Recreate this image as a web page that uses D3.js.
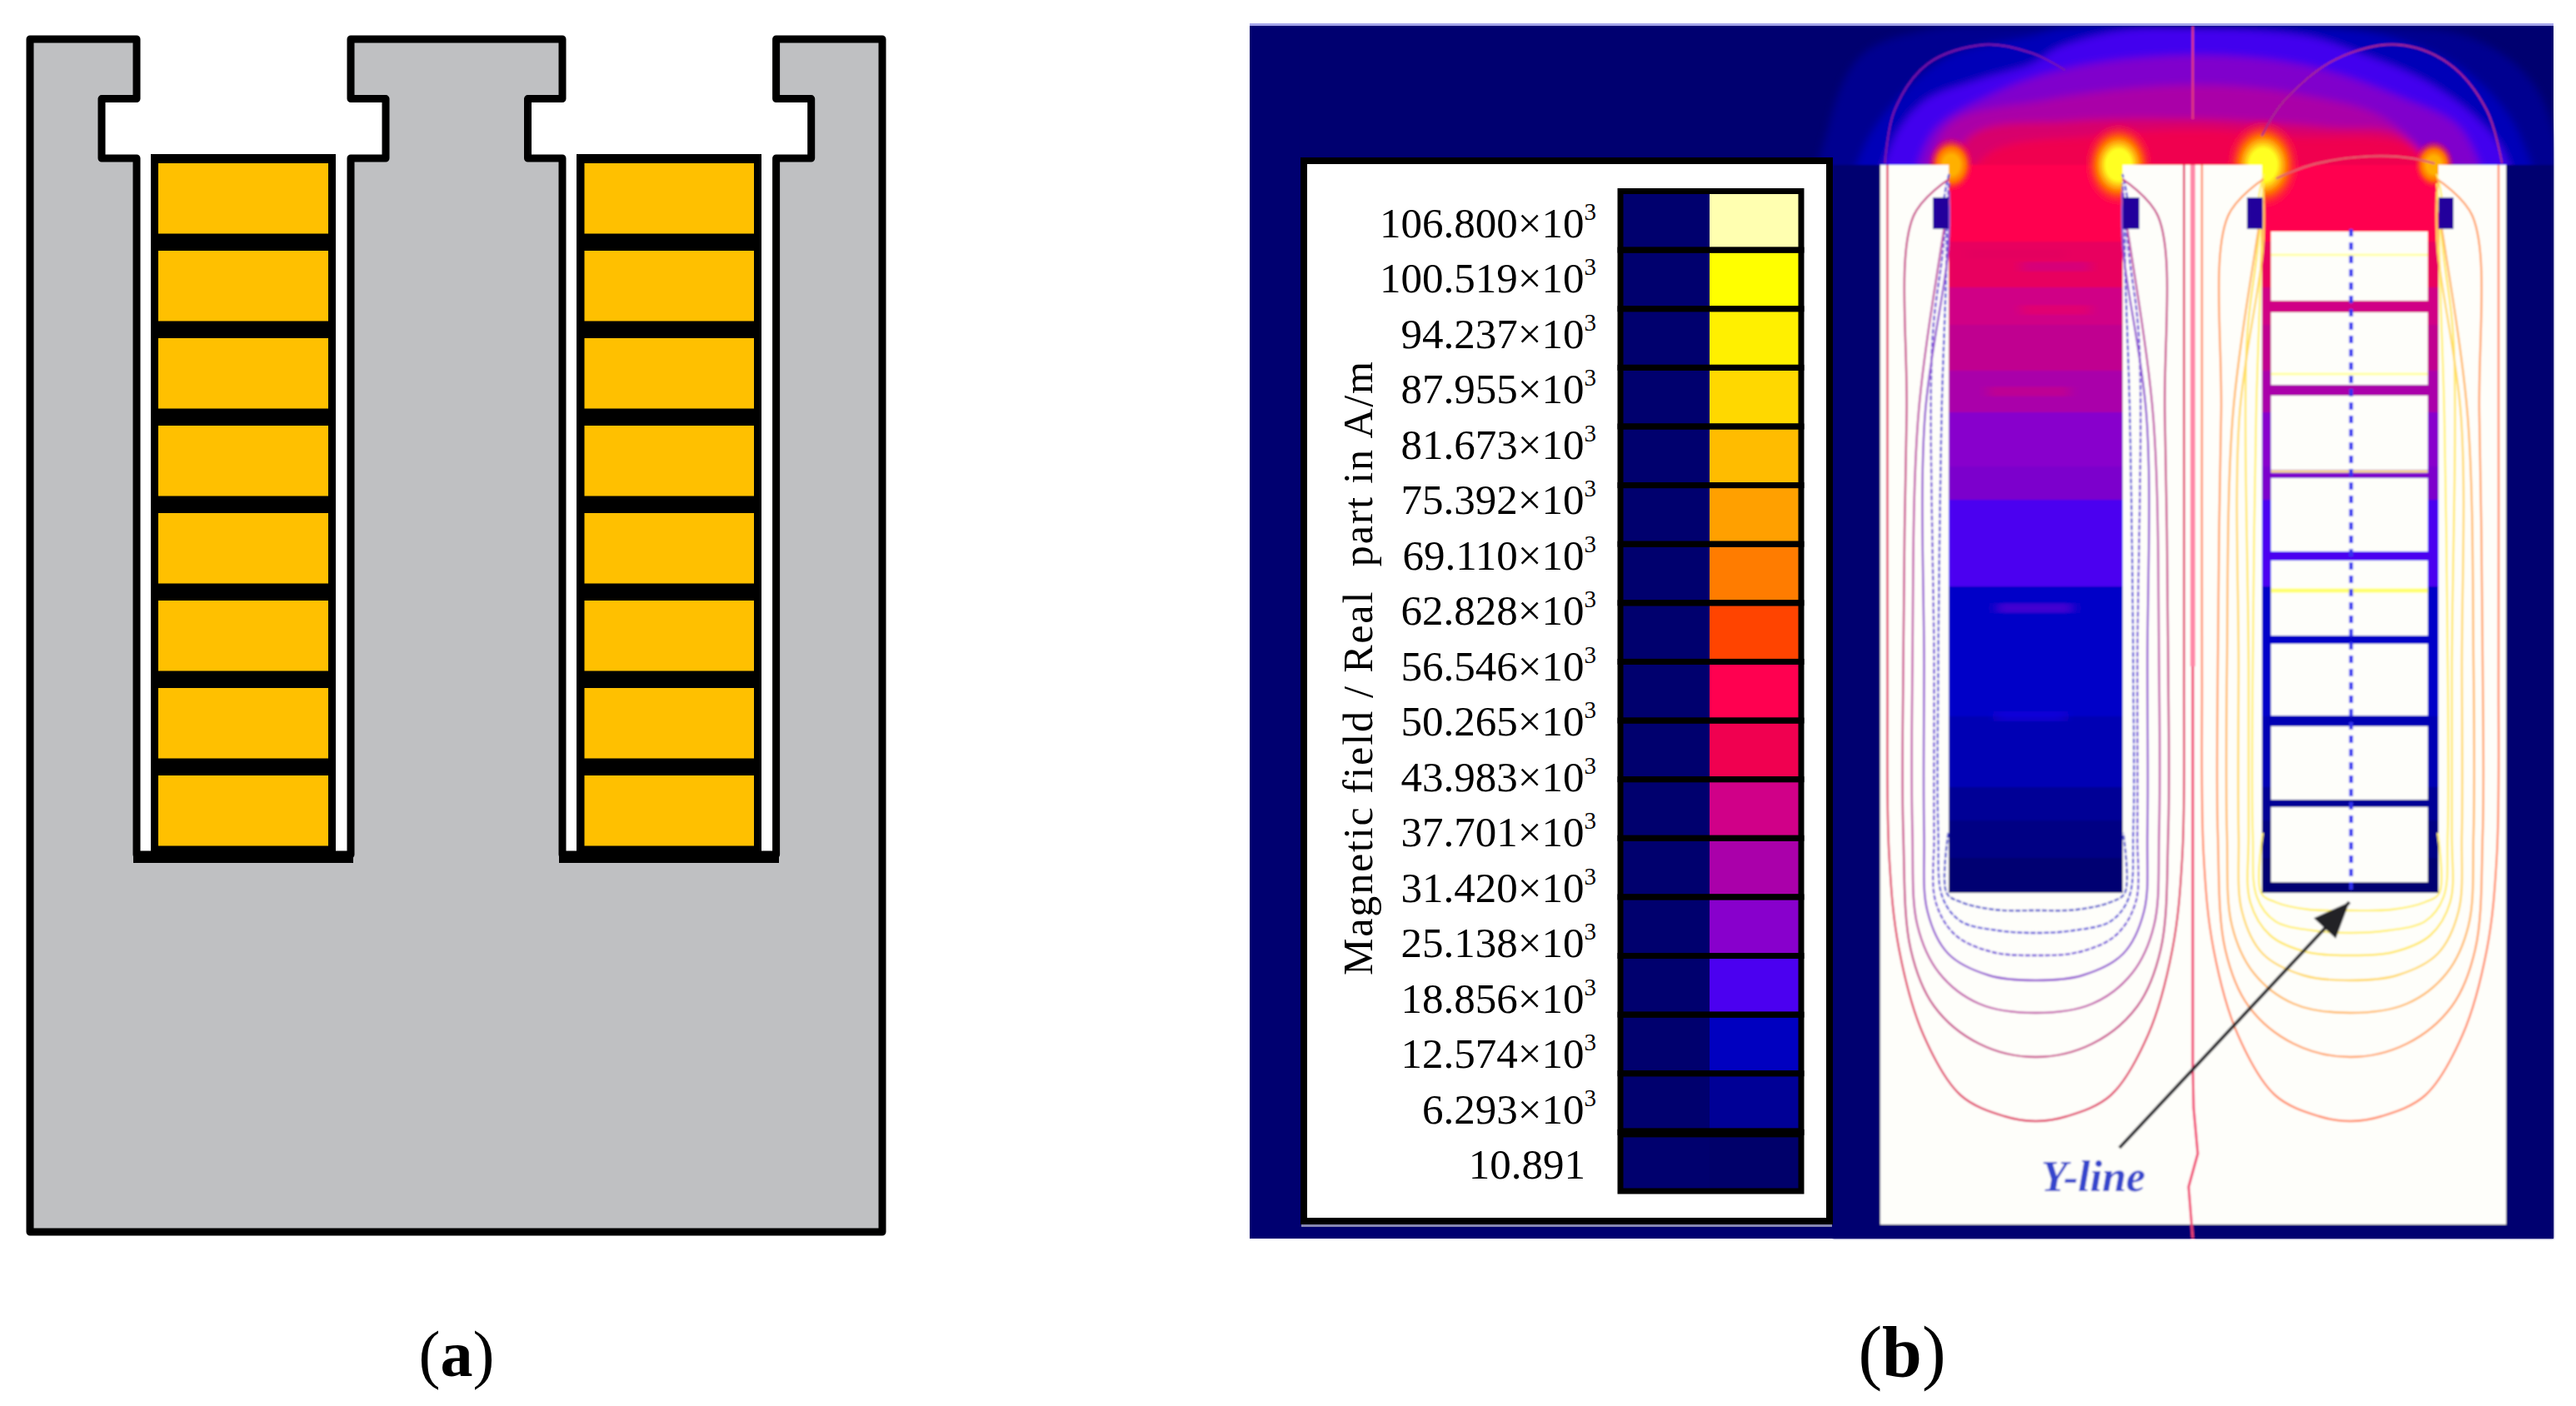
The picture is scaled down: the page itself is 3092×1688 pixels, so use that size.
<html>
<head>
    <title>Coil slots and magnetic field</title>
    <meta charset="UTF-8" />
    <script src="https://d3js.org/d3.v7.min.js"></script>
    <style>
        html, body { margin: 0; padding: 0; background: white; }
        svg { display: block; }
        text { font-family: "Liberation Serif", serif; fill: black; }
    </style>
</head>
<body>
<svg id="chart" width="3092" height="1688"></svg>
<script>
// legend values, top to bottom
const legendValues = ["106.800","100.519","94.237","87.955","81.673","75.392","69.110","62.828","56.546","50.265","43.983","37.701","31.420","25.138","18.856","12.574","6.293"];
const legendMin = "10.891";
const legendColors = ["#ffffb0","#ffff00","#fff000","#ffd800","#ffbc00","#ffa000","#ff7c00","#ff4400","#ff0050","#f00050","#d00088","#aa00aa","#8800cc","#4b00f0","#0000c0","#000096","#00006a"];
const axisTitle = "Magnetic field / Real  part in A/m";

// panel a drawing, units are from the top left of the iron
const ironX = [0,128,128,86,86,128,128,385,385,427,427,385,385,639,639,597.5,597.5,639,639,895.6,895.6,937.7,937.7,895.6,895.6,1023,1023,0];
const ironY = [0,0,71.6,71.6,143,143,979,979,143,143,71.6,71.6,0,0,71.6,71.6,143,143,979,979,143,143,71.6,71.6,0,0,1432,1432];
const coils = d3.range(8);

// panel b, y of each field band in the slots and its colour
const bandTop = [198,290,345,390,445,495,560,600,704,860,945,985,1030];
const bandColor = ["#ff0050","#e8005f","#d00086","#c00090","#aa00aa","#8800cc","#7c00cc","#4b00f0","#0000c8","#0000b4","#000096","#000084","#000072"];
const cellTop = [278,375,475,574,673,773,872,969];
const cellBottom = [361,462,564,662,763,859,960,1059];

const domeColor = ["#000090","#0000b8","#4300ee","#8000cc","#aa00a8","#d8006c","#f00050"];
const domeX = [
  [-20,-10,60,200,400,760,1100,1350,1480,1540,1550],
  [40,60,130,250,420,500,760,1000,1200,1350,1450,1470],
  [110,120,190,300,420,480,620,760,1000,1100,1250,1360,1420,1425],
  [190,205,340,500,760,1000,1200,1330,1360],
  [215,240,450,760,1000,1180,1310],
  [235,290,500,760,1050,1200,1290],
  [255,330,540,760,960,1230,1280]
];
const domeY = [
  [500,300,130,70,62,62,62,90,200,400,500],
  [500,360,240,130,85,62,62,62,95,180,320,500],
  [500,350,240,190,150,110,70,65,85,120,190,280,370,500],
  [500,320,220,160,130,155,230,310,500],
  [500,300,235,200,225,290,500],
  [500,320,285,280,300,320,500],
  [500,360,320,305,320,350,500]
];
const hotX = [250,603,908,1268];
const hotR = [45,70,75,40];
const hotCore = ["#ffb000","#ffff20","#ffff20","#ffb000"];

// thin arcs above the iron, crop coordinates
const arcX = [[110,130,200,320,420,490],[905,950,1060,1190,1300,1380,1412],[935,1020,1130,1220,1270]];
const arcY = [[385,260,150,105,125,165],[320,240,140,105,150,260,385],[420,385,368,372,385]];
const arcColor = ["#7a18a8","#a82890","#e06070"];

// flux lines: half width from the slot centre at each y, pixels
const fluxY = [
  [1000,1072,1083,1092,1093],
  [209,240,275,500,800,1000,1077,1106,1117,1120],
  [220,306,408,800,1000,1083,1123,1143,1147],
  [230,300,500,800,1000,1094,1145,1171,1177],
  [240,300,500,800,1000,1111,1168,1205,1216],
  [215,260,500,800,1000,1140,1208,1253,1269],
  [198,500,800,1026,1140,1242,1315,1340,1346]
];
const fluxHalf = [
  [105,107,90,50,0],
  [104,110,107,113,117,117,112,90,46,0],
  [104,112,124,122,122,120,96,52,0],
  [104,105,133,134,134,130,105,56,0],
  [104,114,141,148,148,142,116,68,0],
  [104,147,155,159,159,150,122,68,0],
  [178,178,178,176,164,135,90,38,0]
];
const fluxLeft = ["#4f50cc","#5a50d8","#7050d8","#9050d0","#c050a8","#c84088","#e03060"];
const fluxRight = ["#fff06a","#fff070","#ffe860","#ffd860","#ffb860","#ffa060","#ff8860"];
const slotCentre = [2443.5,2821];

// faint streaks inside the slots and the coil window
const streakY = [305,320,372,470,730,860];
const streakX0 = [2360,2425,2425,2385,2395,2395];
const streakX1 = [2480,2510,2510,2485,2490,2480];
const streakColor = ["#e0005f","#c80090","#f00060","#d00080","#7a00d8","#2000e8"];
const windowLineY = [306,449,566,709];
const windowLineColor = ["#ffffa8","#ffffa0","#ffe890","#ffff70"];

const svg = d3.select("#chart");

// ----- panel a -----
const ax = d3.scaleLinear().domain([0,1023]).range([36,1059]);
const ay = d3.scaleLinear().domain([0,1432]).range([47,1479]);
const ironLine = d3.line().x(d => ax(d[0])).y(d => ay(d[1])).curve(d3.curveLinearClosed);
const panelA = svg.append("g");

panelA.append("path")
    .attr("d", ironLine(d3.zip(ironX, ironY)))
    .attr("fill", "#bfc0c2").attr("stroke", "black").attr("stroke-width", 9).attr("stroke-linejoin", "round");

const coilY = d3.scaleBand().domain(coils).range([185,1025]);
[[181,222,190,204],[692,222,701.5,203.5]].forEach(c => {
    panelA.selectAll(null).data(coils).join("rect")
        .attr("x", c[0]).attr("y", d => coilY(d))
        .attr("width", c[1]).attr("height", coilY.bandwidth())
        .attr("fill", "black");
    panelA.selectAll(null).data(coils).join("rect")
        .attr("x", c[2]).attr("y", d => coilY(d)+11)
        .attr("width", c[3]).attr("height", 84.5)
        .attr("fill", "#ffc000");
});
// slot floor
[[160,264],[671,264]].forEach(f => {
    panelA.append("rect").attr("x", f[0]).attr("y", 1024).attr("width", f[1]).attr("height", 12).attr("fill", "black");
});

// ----- panel b background -----
const panelB = svg.append("g");
panelB.append("rect").attr("x", 1500).attr("y", 31).attr("width", 1565).attr("height", 1456).attr("fill", "#000070");

const defs = svg.append("defs");
const soft = defs.append("filter").attr("id", "soft").attr("x", "-2%").attr("y", "-2%").attr("width", "104%").attr("height", "104%");
soft.append("feGaussianBlur").attr("stdDeviation", 1.3);
const soft2 = defs.append("filter").attr("id", "soft2");
soft2.append("feGaussianBlur").attr("stdDeviation", 7);
const soft3 = defs.append("filter").attr("id", "soft3");
soft3.append("feGaussianBlur").attr("stdDeviation", 5);
defs.append("clipPath").attr("id", "frame").append("rect")
    .attr("x", 1500).attr("y", 31).attr("width", 1565).attr("height", 1456);

hotCore.forEach((c, i) => {
    const g = defs.append("radialGradient").attr("id", "hot"+i);
    g.append("stop").attr("offset", "0%").attr("stop-color", c);
    g.append("stop").attr("offset", "35%").attr("stop-color", c);
    g.append("stop").attr("offset", "62%").attr("stop-color", "#ff7000");
    g.append("stop").attr("offset", "100%").attr("stop-color", "#ff0050").attr("stop-opacity", 0);
});
defs.append("marker").attr("id", "head").attr("viewBox", "0 0 12 10").attr("refX", 12).attr("refY", 5)
    .attr("markerWidth", 12).attr("markerHeight", 9).attr("orient", "auto").attr("markerUnits", "strokeWidth")
    .append("path").attr("d", "M0,0L12,5L0,10Z").attr("fill", "#202028");

// crop coordinates of the top right zoom to picture pixels
const cx = d3.scaleLinear().domain([0,1568]).range([2200,3092]);
const cy = d3.scaleLinear().domain([0,1568]).range([0,800]);
const cropLine = d3.line().x(d => cx(d[0])).y(d => cy(d[1]));

const field = panelB.append("g").attr("filter", "url(#soft)");
const domes = field.append("g").attr("clip-path", "url(#frame)").append("g").attr("filter", "url(#soft3)");
domeColor.forEach((c, i) => {
    domes.append("path")
        .attr("d", cropLine.curve(d3.curveCatmullRomClosed.alpha(0.5))(d3.zip(domeX[i], domeY[i])))
        .attr("fill", c);
});
// hide what the domes leave below the air gap
field.append("rect").attr("x", 2200).attr("y", 198).attr("width", 865).attr("height", 1289).attr("fill", "#000070");

// slot bands
const slots = [[2339,209],[2715,212]];
const bandBottom = bandTop.slice(1).concat([1072]);
slots.forEach(s => {
    field.selectAll(null).data(bandTop).join("rect")
        .attr("x", s[0]).attr("y", d => d)
        .attr("width", s[1]).attr("height", (d, i) => bandBottom[i]-d+1)
        .attr("fill", (d, i) => bandColor[i]);
});
field.selectAll(null).data(streakY).join("rect")
    .attr("x", (d, i) => streakX0[i]).attr("y", d => d-5)
    .attr("width", (d, i) => streakX1[i]-streakX0[i]).attr("height", 10)
    .attr("fill", (d, i) => streakColor[i]).attr("rx", 5).attr("filter", "url(#soft2)");

// hot spots on the slot corners
field.selectAll(null).data(hotX).join("ellipse")
    .attr("cx", d => cx(d)).attr("cy", cy(388))
    .attr("rx", (d, i) => hotR[i]*0.62).attr("ry", (d, i) => hotR[i]*0.75)
    .attr("fill", (d, i) => `url(#hot${i})`);

// white surroundings of the slots
[[2257,198,82,1272],[2548,198,167,1272],[2927,198,81,1272],[2257,1072,751,398]].forEach(b => {
    field.append("rect").attr("x", b[0]).attr("y", b[1]).attr("width", b[2]).attr("height", b[3]).attr("fill", "#fefefa");
});
// coil windows
field.selectAll(null).data(cellTop).join("rect")
    .attr("x", 2726).attr("y", d => d)
    .attr("width", 188).attr("height", (d, i) => cellBottom[i]-d)
    .attr("fill", "#fefefa");
field.selectAll(null).data(windowLineY).join("line")
    .attr("x1", 2726).attr("x2", 2914).attr("y1", d => d).attr("y2", d => d)
    .attr("stroke", (d, i) => windowLineColor[i]).attr("stroke-width", (d, i) => i == 3 ? 5 : 3);

// flux lines, the left side of the U then mirrored to the right
const fluxPath = d3.line().curve(d3.curveCatmullRom.alpha(0.5));
slotCentre.forEach((c, s) => {
    fluxY.forEach((ys, i) => {
        const half = fluxHalf[i];
        const left = ys.map((y, k) => [c-half[k], y]);
        const right = ys.slice(0,-1).reverse().map((y, k) => [c+half[ys.length-2-k], y]);
        field.append("path")
            .attr("d", fluxPath(left.concat(right)))
            .attr("fill", "none")
            .attr("stroke", (s == 0 ? fluxLeft : fluxRight)[i])
            .attr("stroke-width", 2.4)
            .attr("stroke-dasharray", s == 0 && i < 3 ? "6,2" : null);
    });
});

// the blue corner tabs
[[2320,19],[2548,20],[2697,19],[2927,18]].forEach(b => {
    field.append("rect").attr("x", b[0]).attr("y", 237).attr("width", b[1]).attr("height", 38).attr("fill", "#22009c");
});

// arcs over the iron
arcColor.forEach((c, i) => {
    field.append("path")
        .attr("d", cropLine.curve(d3.curveCatmullRom.alpha(0.5))(d3.zip(arcX[i], arcY[i])))
        .attr("fill", "none").attr("stroke", c).attr("stroke-width", 2.2);
});

// symmetry line down the middle
field.append("line").attr("x1", 2632).attr("x2", 2632).attr("y1", 31).attr("y2", 143).attr("stroke", "#e83878").attr("stroke-width", 2.5);
field.append("line").attr("x1", 2632).attr("x2", 2632).attr("y1", 198).attr("y2", 800).attr("stroke", "#ff88a8").attr("stroke-width", 6);
field.append("path")
    .attr("d", d3.line()([[2632,800],[2632,1280],[2633,1330],[2638,1385],[2627,1425],[2632,1487]]))
    .attr("fill", "none").attr("stroke", "#f04070").attr("stroke-width", 3);

// the Y-line and its pointer
field.append("line").attr("x1", 2822).attr("x2", 2822).attr("y1", 275).attr("y2", 1072)
    .attr("stroke", "#3030f0").attr("stroke-width", 4.5).attr("stroke-dasharray", "9,7");
field.append("line").attr("x1", 2544).attr("y1", 1378).attr("x2", 2820).attr("y2", 1083)
    .attr("stroke", "#202028").attr("stroke-width", 4).attr("marker-end", "url(#head)");
field.append("text").attr("x", 2450).attr("y", 1430)
    .attr("font-size", 52).attr("font-weight", "bold").attr("font-style", "italic")
    .style("fill", "#3444cc").text("Y-line");

panelB.append("rect").attr("x", 1500).attr("y", 28).attr("width", 1565).attr("height", 3).attr("fill", "#a4a4ea");

// ----- legend -----
const legend = panelB.append("g");
legend.append("rect").attr("x", 1562).attr("y", 1470).attr("width", 637).attr("height", 3).attr("fill", "#8888b0");
legend.append("rect").attr("x", 1565).attr("y", 193).attr("width", 631).attr("height", 1273)
    .attr("fill", "white").attr("stroke", "black").attr("stroke-width", 8);

const rowY = d3.scaleBand().domain(legendValues).range([229.5,1430]);
const labelY = d3.scalePoint().domain(legendValues.concat([legendMin])).range([285,1415]);

legend.selectAll("rect.dark").data(legendValues).join("rect")
    .attr("class", "dark")
    .attr("x", 1945).attr("y", d => rowY(d))
    .attr("width", 108).attr("height", rowY.bandwidth())
    .attr("fill", "#00006e");
legend.selectAll("rect.swatch").data(legendValues).join("rect")
    .attr("class", "swatch")
    .attr("x", 2052).attr("y", d => rowY(d))
    .attr("width", 110).attr("height", rowY.bandwidth())
    .attr("fill", (d, i) => legendColors[i]);
legend.selectAll("rect.frame").data(legendValues).join("rect")
    .attr("class", "frame")
    .attr("x", 1945).attr("y", d => rowY(d))
    .attr("width", 217).attr("height", rowY.bandwidth())
    .attr("fill", "none").attr("stroke", "black").attr("stroke-width", 7);
// the last divider is heavier
legend.append("rect").attr("x", 1942).attr("y", rowY("6.293")-5).attr("width", 223).attr("height", 11).attr("fill", "black");

const labels = legend.selectAll("text.val").data(legendValues).join("text")
    .attr("class", "val")
    .attr("x", 1916).attr("y", d => labelY(d))
    .attr("text-anchor", "end").attr("font-size", 51);
labels.append("tspan").text(d => d + "\u00d710");
labels.append("tspan").attr("dy", -21).attr("font-size", 29).text("3");

legend.append("text").attr("x", 1903).attr("y", labelY(legendMin))
    .attr("text-anchor", "end").attr("font-size", 51).text(legendMin);

legend.append("text")
    .attr("transform", "translate(1647,1171) rotate(-90)")
    .attr("font-size", 50)
    .attr("textLength", 737).attr("lengthAdjust", "spacing")
    .style("white-space", "pre")
    .text(axisTitle);

// ----- captions -----
[["a",548,78],["b",2283,86]].forEach(c => {
    const t = svg.append("text").attr("x", c[1]).attr("y", 1652).attr("text-anchor", "middle").attr("font-size", c[2]);
    t.append("tspan").text("(");
    t.append("tspan").attr("font-weight", "bold").text(c[0]);
    t.append("tspan").text(")");
});
</script>
</body>
</html>
